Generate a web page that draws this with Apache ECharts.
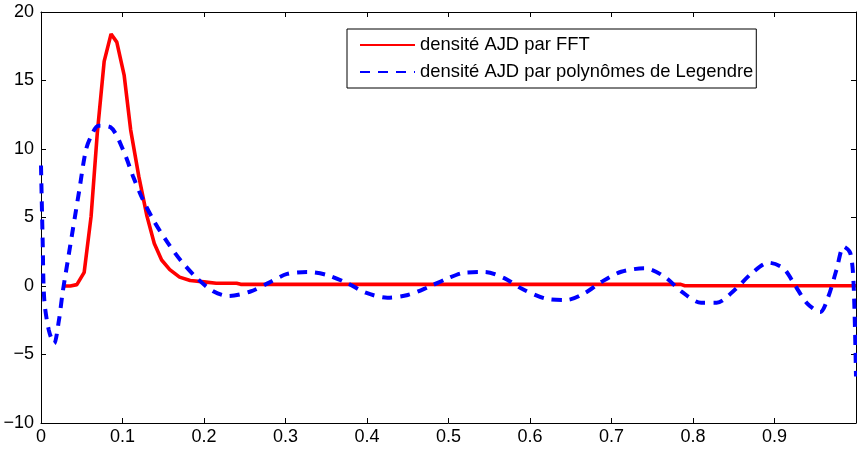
<!DOCTYPE html>
<html>
<head>
<meta charset="utf-8">
<script src="https://cdn.jsdelivr.net/npm/echarts@6/dist/echarts.min.js"></script>
<style>html,body{margin:0;padding:0;background:#fff;}#c{width:857px;height:450px;}</style>
</head>
<body>
<div id="c"></div>
<script>
var seriesNames = ["densité AJD par FFT", "densité AJD par polynômes de Legendre"];
var xTicks = [0, 0.1, 0.2, 0.3, 0.4, 0.5, 0.6, 0.7, 0.8, 0.9, 1];
var yTicks = [-10, -5, 0, 5, 10, 15, 20];

var fftX = [0.027, 0.036, 0.044, 0.053, 0.0615, 0.069, 0.0775, 0.086, 0.093, 0.102, 0.11, 0.12, 0.13, 0.139, 0.148, 0.158, 0.17, 0.183, 0.2, 0.215, 0.24, 0.245, 0.785, 0.79, 1.0];
var fftY = [0, 0, 0.1, 1.0, 5.1, 11.1, 16.4, 18.4, 17.8, 15.4, 11.4, 8.0, 5.1, 3.1, 1.9, 1.2, 0.65, 0.4, 0.3, 0.2, 0.2, 0.12, 0.12, 0.02, 0.02];

var legX = [0, 0.002, 0.004, 0.0095, 0.016, 0.022, 0.0265, 0.033, 0.039, 0.047, 0.055, 0.062, 0.0705, 0.085, 0.101, 0.113, 0.125, 0.14, 0.155, 0.171, 0.1915, 0.212, 0.23, 0.257, 0.28, 0.302, 0.327, 0.351, 0.376, 0.3985, 0.425, 0.45, 0.4745, 0.499, 0.519, 0.544, 0.569, 0.589, 0.618, 0.645, 0.667, 0.688, 0.712, 0.741, 0.765, 0.786, 0.81, 0.829, 0.851, 0.872, 0.893, 0.911, 0.925, 0.94, 0.956, 0.966, 0.976, 0.985, 0.993, 0.997, 1.0];
var legY = [8.8, 3.4, -1.0, -3.2, -4.2, -2.5, -0.5, 1.9, 4.1, 7.0, 9.9, 11.0, 11.7, 11.6, 9.9, 8.0, 6.3, 4.6, 3.2, 1.9, 0.56, -0.41, -0.73, -0.4, 0.25, 0.88, 1.02, 0.8, 0.2, -0.49, -0.85, -0.66, -0.1, 0.56, 0.97, 1.02, 0.56, -0.17, -0.9, -1.02, -0.53, 0.31, 1.04, 1.29, 0.68, -0.41, -1.22, -1.22, -0.29, 0.93, 1.7, 1.29, 0.07, -1.26, -1.9, -0.78, 1.17, 2.87, 2.4, 0.2, -6.6];

function pairs(xs, ys) { return xs.map(function (x, i) { return [x, ys[i]]; }); }

var font = "'Liberation Sans', Arial, Helvetica, sans-serif";
var axisCommon = {
  axisLine: { show: true, onZero: false, lineStyle: { color: '#000', width: 1 } },
  axisTick: { show: true, inside: true, length: 5, lineStyle: { color: '#000', width: 1 } },
  splitLine: { show: false }
};

var chart = echarts.init(document.getElementById('c'), null, { renderer: 'canvas' });
chart.setOption({
  animation: false,
  backgroundColor: '#fff',
  grid: { left: 41, right: 1, top: 12, bottom: 27, containLabel: false, outerBoundsMode: 'none' },
  legend: {
    orient: 'vertical',
    left: 347, top: 29,
    padding: [7, 3, 7, 12],
    itemGap: 9,
    itemWidth: 55, itemHeight: 14,
    borderColor: '#000', borderWidth: 1,
    backgroundColor: '#fff',
    itemStyle: { opacity: 0 },
    textStyle: { fontFamily: font, fontSize: 18.4, color: '#000', lineHeight: 18 },
    data: seriesNames
  },
  xAxis: [
    Object.assign({
      type: 'value', position: 'bottom',
      min: xTicks[0], max: xTicks[xTicks.length - 1], interval: 0.1,
      axisLabel: { show: true, margin: 5, fontFamily: font, fontSize: 18, color: '#000', showMaxLabel: false,
        formatter: function (v) { return String(Math.round(v * 10) / 10); } }
    }, axisCommon),
    Object.assign({
      type: 'value', position: 'top',
      min: xTicks[0], max: xTicks[xTicks.length - 1], interval: 0.1,
      axisLabel: { show: false }
    }, axisCommon)
  ],
  yAxis: [
    Object.assign({
      type: 'value', position: 'left',
      min: yTicks[0], max: yTicks[yTicks.length - 1], interval: 5,
      axisLabel: { show: true, margin: 7, fontFamily: font, fontSize: 18, color: '#000',
        formatter: function (v) { return String(v).replace('-', '\u2212'); } }
    }, axisCommon),
    Object.assign({
      type: 'value', position: 'right',
      min: yTicks[0], max: yTicks[yTicks.length - 1], interval: 5,
      axisLabel: { show: false }
    }, axisCommon)
  ],
  series: [
    {
      name: seriesNames[0], type: 'line', xAxisIndex: 0, yAxisIndex: 0,
      data: pairs(fftX, fftY), symbol: 'none', smooth: false,
      lineStyle: { color: '#ff0000', width: 3.6 }, itemStyle: { color: '#ff0000' },
      z: 3
    },
    {
      name: seriesNames[1], type: 'line', xAxisIndex: 0, yAxisIndex: 0,
      data: pairs(legX, legY), symbol: 'none', smooth: 0.3,
      lineStyle: { color: '#0000ff', width: 4, type: [10, 8] }, itemStyle: { color: '#0000ff' },
      z: 4
    }
  ]
});
</script>
</body>
</html>
